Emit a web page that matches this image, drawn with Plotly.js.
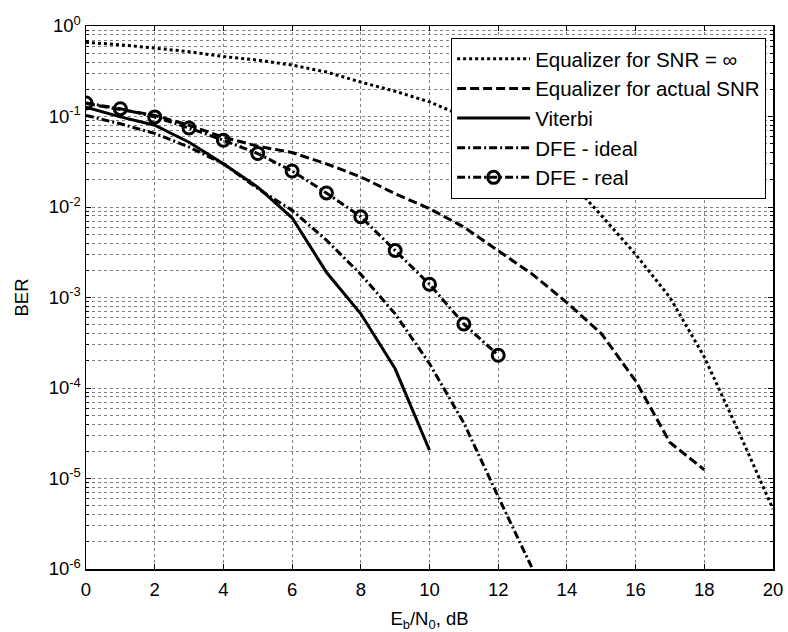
<!DOCTYPE html>
<html>
<head>
<meta charset="utf-8">
<script src="https://cdn.plot.ly/plotly-3.0.1.min.js"></script>
<style>html,body{margin:0;padding:0;background:#fff;}#chart{width:788px;height:632px;}</style>
</head>
<body>
<div id="chart"></div>
<script>
// Eb/N0 in dB
const snrInf = [0,1,2,3,4,5,6,7,8,9,10,11,12,13,14,15,16,17,18,19,20];
const berInf = [0.66,0.62,0.57,0.52,0.46,0.42,0.37,0.31,0.24,0.19,0.145,0.10,0.066,0.038,0.021,0.0081,0.003,0.001,2.2e-4,3.3e-5,4.6e-6];

const snrAct = [0,1,2,3,4,5,6,7,8,9,10,11,12,13,14,15,16,17,18];
const berAct = [0.139,0.12,0.103,0.08,0.059,0.047,0.040,0.030,0.0215,0.014,0.0096,0.006,0.0033,0.0018,8.8e-4,4.0e-4,1.2e-4,2.5e-5,1.25e-5];

const snrVit = [0,1,2,3,4,5,6,7,8,9,10];
const berVit = [0.127,0.099,0.08,0.052,0.030,0.0166,0.0076,0.0019,6.6e-4,1.63e-4,2.05e-5];

const snrIdeal = [0,1,2,3,4,5,6,7,8,9,10,11,12,13];
const berIdeal = [0.103,0.083,0.065,0.046,0.030,0.016,0.0092,0.0043,0.0018,6.6e-4,1.86e-4,4.1e-5,6.3e-6,1.0e-6];

const snrReal = [0,1,2,3,4,5,6,7,8,9,10,11,12];
const berReal = [0.141,0.122,0.099,0.0746,0.0546,0.039,0.025,0.0143,0.0078,0.0033,0.0014,5.1e-4,2.3e-4];

const xTicks = [0,2,4,6,8,10,12,14,16,18,20];
const yTickVals = [1e-6,1e-5,1e-4,1e-3,1e-2,1e-1,1];
const yTickText = ['10<sup>-6</sup>','10<sup>-5</sup>','10<sup>-4</sup>','10<sup>-3</sup>','10<sup>-2</sup>','10<sup>-1</sup>','10<sup>0</sup>'];

const names = ['Equalizer for SNR = \u221e','Equalizer for actual SNR','Viterbi','DFE - ideal','DFE - real'];

// minor grid positions (2..9 per decade)
const minorVals = [];
for (let d = -6; d < 0; d++) for (let k = 2; k <= 9; k++) minorVals.push(k * Math.pow(10, d));

const LW = 3;
const traces = [
  {x: snrInf, y: berInf, name: names[0], mode: 'lines', legendgroup: 'a',
   line: {color: '#000', width: LW, dash: '3px,3px'}},
  {x: snrAct, y: berAct, name: names[1], mode: 'lines', legendgroup: 'b',
   line: {color: '#000', width: LW, dash: '9px,4px'}},
  {x: snrVit, y: berVit, name: names[2], mode: 'lines', legendgroup: 'c',
   line: {color: '#000', width: LW}},
  {x: snrIdeal, y: berIdeal, name: names[3], mode: 'lines', legendgroup: 'd',
   line: {color: '#000', width: LW, dash: '8px,3px,2px,3px'}},
  {x: snrReal, y: berReal, name: names[4], mode: 'lines+markers', legendgroup: 'e',
   line: {color: '#000', width: LW, dash: '8px,3px,2px,3px'},
   marker: {symbol: 'circle-open', size: 12, color: '#000', line: {width: 3, color: '#000'}}}
];

const font = 'Liberation Sans, Arial, Helvetica, sans-serif';
const gridColor = '#808080';

const layout = {
  width: 788, height: 632,
  margin: {l: 86, r: 15, t: 26, b: 63, pad: 0},
  paper_bgcolor: '#fff', plot_bgcolor: '#fff',
  font: {family: font, size: 18, color: '#000'},
  showlegend: true,
  legend: {
    x: 0.99, y: 0.978, xanchor: 'right', yanchor: 'top',
    bgcolor: '#fff', bordercolor: '#000', borderwidth: 1,
    font: {family: font, size: 20.5, color: '#000'},
    itemwidth: 73, tracegroupgap: 3, traceorder: 'normal'
  },
  xaxis: {
    range: [0, 20], tickmode: 'array', tickvals: xTicks,
    ticks: 'inside', ticklen: 5, tickcolor: '#000', tickwidth: 1,
    showline: true, linecolor: '#000', linewidth: 1.5, mirror: 'allticks',
    showgrid: true, gridcolor: gridColor, griddash: 'dot', gridwidth: 1,
    zeroline: false, ticklabelstandoff: 3,
    tickfont: {family: font, size: 18.5},
    title: {text: 'E<sub>b</sub>/N<sub>0</sub>, dB', font: {family: font, size: 18.5}, standoff: 16}
  },
  yaxis: {
    type: 'log', range: [-6, 0], tickmode: 'array', tickvals: yTickVals, ticktext: yTickText,
    ticks: 'inside', ticklen: 5, tickcolor: '#000', tickwidth: 1,
    showline: true, linecolor: '#000', linewidth: 1.5, mirror: 'allticks',
    showgrid: true, gridcolor: gridColor, griddash: 'dot', gridwidth: 1,
    zeroline: false,
    minor: {tickmode: 'array', tickvals: minorVals, ticks: 'inside', ticklen: 3, tickcolor: '#000',
            showgrid: true, gridcolor: gridColor, griddash: 'dot', gridwidth: 1},
    tickfont: {family: font, size: 18.5},
    title: {text: 'BER', font: {family: font, size: 18.5}, standoff: 15}
  }
};

Plotly.newPlot('chart', traces, layout, {staticPlot: true, displayModeBar: false});
</script>
</body>
</html>
